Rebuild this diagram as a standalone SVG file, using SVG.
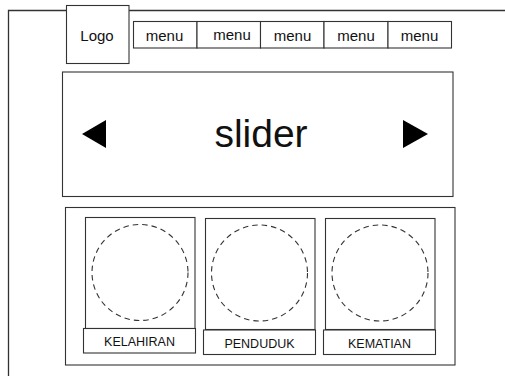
<svg xmlns="http://www.w3.org/2000/svg" width="505" height="376" viewBox="0 0 505 376">
<style>
.box{fill:#fff;stroke:#333;stroke-width:1.1}
.line{fill:none;stroke:#333;stroke-width:1.3}
.t{font-family:"Liberation Sans",Arial,sans-serif;fill:#111;text-anchor:middle}
.menu{font-size:15px}
.lbl{font-size:12.5px}
.circ{fill:none;stroke:#333;stroke-width:1.1;stroke-dasharray:5.5 4}
</style>
<rect width="505" height="376" fill="#fff"/>
<g id="frame">
<path class="line" d="M8.5,376 V10.5 H66 M129 10.5 H505"/>
</g>
<g id="logo">
<rect class="box" x="66.5" y="5.5" width="62.5" height="58"/>
<text class="t menu" x="97" y="40.5">Logo</text>
</g>
<g id="menu1"><rect class="box" x="133.5" y="21.5" width="63.5" height="26.5"/><text class="t menu" x="164.5" y="40.5">menu</text></g>
<g id="menu2"><rect class="box" x="197" y="21.5" width="63.5" height="26.5"/><text class="t menu" x="232" y="40">menu</text></g>
<g id="menu3"><rect class="box" x="260.5" y="21.5" width="63.5" height="26.5"/><text class="t menu" x="292.5" y="40.5">menu</text></g>
<g id="menu4"><rect class="box" x="324" y="21.5" width="64" height="26.5"/><text class="t menu" x="356" y="40.5">menu</text></g>
<g id="menu5"><rect class="box" x="388" y="21.5" width="63.5" height="26.5"/><text class="t menu" x="419.5" y="40.5">menu</text></g>
<g id="slider">
<rect class="box" x="62.5" y="72" width="390.5" height="124.5"/>
<polygon points="82,134 106,120 106,148" fill="#000"/>
<polygon points="428,134 403,120 403,148" fill="#000"/>
<text class="t" x="261" y="147" font-size="39">slider</text>
</g>
<g id="container">
<rect class="box" x="65.5" y="207.5" width="389.5" height="157.5"/>
</g>
<g id="card1">
<rect class="box" x="85.5" y="217.5" width="109.5" height="111"/>
<circle class="circ" cx="140" cy="272.5" r="48"/>
<rect class="box" x="83.5" y="328.5" width="112" height="24.5"/>
<text class="t lbl" x="139.5" y="346">KELAHIRAN</text>
</g>
<g id="card2">
<rect class="box" x="205.5" y="218.5" width="109.5" height="111"/>
<circle class="circ" cx="259.5" cy="273" r="48"/>
<rect class="box" x="203.5" y="330" width="112" height="24.5"/>
<text class="t lbl" x="259.5" y="347.5">PENDUDUK</text>
</g>
<g id="card3">
<rect class="box" x="325.5" y="218.5" width="109.5" height="111"/>
<circle class="circ" cx="380" cy="273" r="48"/>
<rect class="box" x="323.5" y="330" width="112" height="24.5"/>
<text class="t lbl" x="379.5" y="347.5">KEMATIAN</text>
</g>
</svg>
